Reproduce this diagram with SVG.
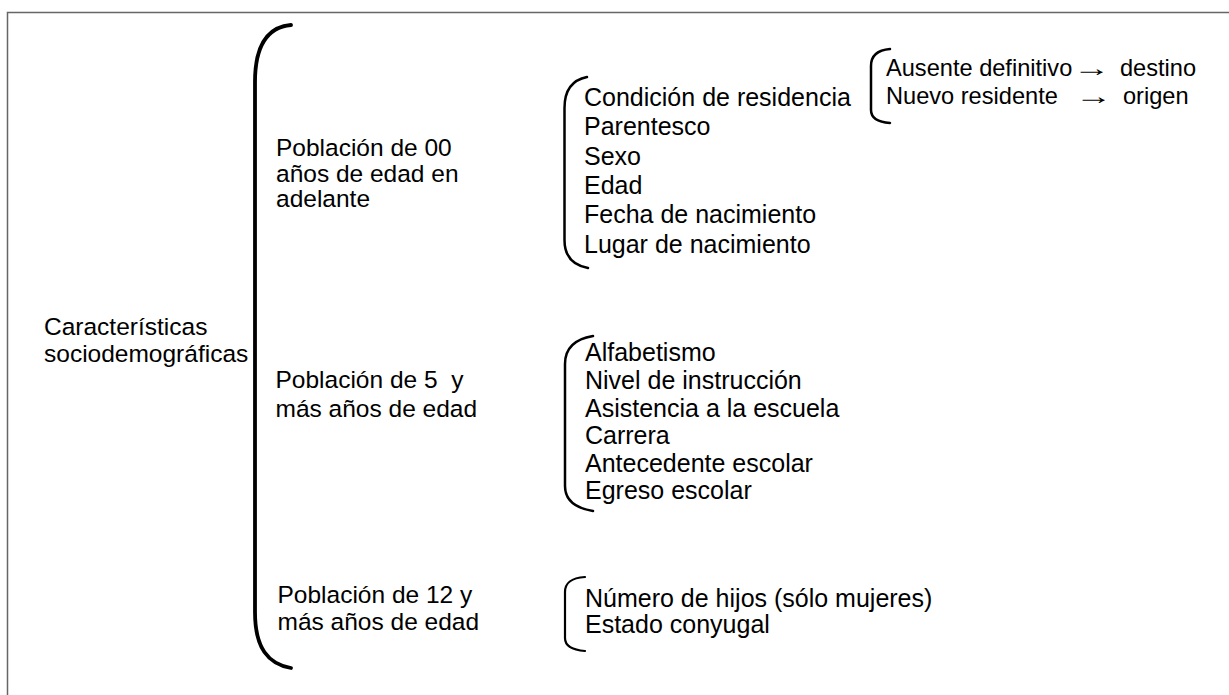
<svg xmlns="http://www.w3.org/2000/svg" width="1229" height="695" viewBox="0 0 1229 695">
<style>
  .t { font-family: "Liberation Sans", Arial, sans-serif; fill: #000; }
  .l { font-size: 24.5px; }
  .r { font-size: 25px; }
  .s { font-size: 23.6px; }
  .arr { font-family: "Liberation Sans", Arial, sans-serif; font-size: 24px; fill: #000; }
  .br { fill: none; stroke: #000; stroke-linecap: round; }
  .frame { fill: none; stroke: #666; stroke-width: 1.5; }
</style>
<rect width="1229" height="695" fill="#fff"/>
<g id="frame">
  <path class="frame" d="M1229,12.5 H7.5 V695"/>
</g>
<g id="connectors">
  <path class="br" stroke-width="3.8" d="M291,25 C268,27 255,45 255,82 L255,612 C255,648 268,664 291,668"/>
  <path class="br" stroke-width="2.5" d="M587,77 C572,80 564.5,90 564.5,108 L564.5,240 C564.5,256 572,265 588,268"/>
  <path class="br" stroke-width="2.5" d="M890,49 C878,50 871,55 871,66 L871,110 C871,118 877,122 890,123"/>
  <path class="br" stroke-width="2.5" d="M593,336 C575,339 565,348 565,364 L565,486 C565,500 575,508 593,511"/>
  <path class="br" stroke-width="2.2" d="M585,577 C572,578 565,582 565,592 L565,638 C565,646 572,650 585,651"/>
</g>
<g id="node-root">
  <text class="t l" x="44" y="335">Características</text>
  <text class="t l" x="44" y="362">sociodemográficas</text>
</g>
<g id="node-pob00">
  <text class="t l" x="276" y="156">Población de 00</text>
  <text class="t l" x="276" y="182">años de edad en</text>
  <text class="t l" x="276" y="207">adelante</text>
</g>
<g id="node-pob5">
  <text class="t l" x="275.5" y="388" xml:space="preserve">Población de 5  y</text>
  <text class="t l" x="275.5" y="417">más años de edad</text>
</g>
<g id="node-pob12">
  <text class="t l" x="277.5" y="603">Población de 12 y</text>
  <text class="t l" x="277.5" y="630">más años de edad</text>
</g>
<g id="node-list00">
  <text class="t r" x="584" y="106">Condición de residencia</text>
  <text class="t r" x="584" y="135">Parentesco</text>
  <text class="t r" x="584" y="165">Sexo</text>
  <text class="t r" x="584" y="194">Edad</text>
  <text class="t r" x="584" y="223">Fecha de nacimiento</text>
  <text class="t r" x="584" y="253">Lugar de nacimiento</text>
</g>
<g id="node-residencia">
  <text class="t s" x="886" y="76">Ausente definitivo</text>
  <text class="arr" transform="translate(1073,76) scale(1.55,1)">→</text>
  <text class="t s" x="1120" y="76">destino</text>
  <text class="t s" x="886" y="104">Nuevo residente</text>
  <text class="arr" transform="translate(1075,104) scale(1.55,1)">→</text>
  <text class="t s" x="1123" y="104">origen</text>
</g>
<g id="node-list5">
  <text class="t r" x="585" y="361">Alfabetismo</text>
  <text class="t r" x="585" y="389">Nivel de instrucción</text>
  <text class="t r" x="585" y="417">Asistencia a la escuela</text>
  <text class="t r" x="585" y="444">Carrera</text>
  <text class="t r" x="585" y="472">Antecedente escolar</text>
  <text class="t r" x="585" y="499">Egreso escolar</text>
</g>
<g id="node-list12">
  <text class="t r" x="585" y="607">Número de hijos (sólo mujeres)</text>
  <text class="t r" x="585" y="633">Estado conyugal</text>
</g>
</svg>
